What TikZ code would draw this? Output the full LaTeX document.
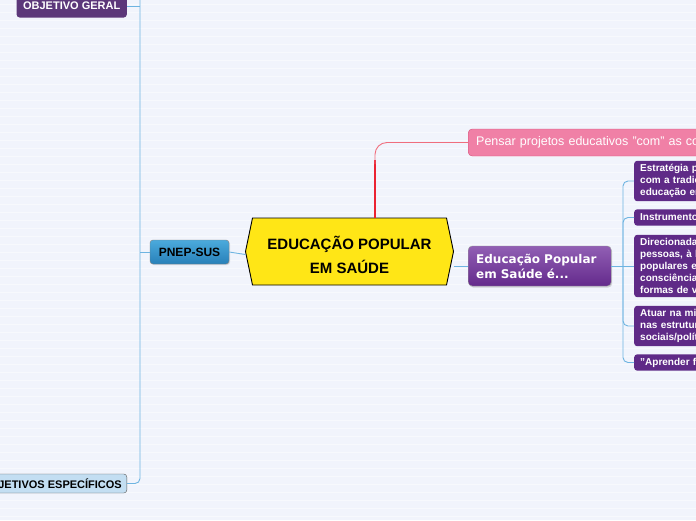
\documentclass[tikz,border=0pt]{standalone}
\usepackage{fontspec}
\setmainfont{Liberation Sans}
\newfontfamily\dejavu{DejaVu Sans}
\usetikzlibrary{calc,shadows}
\definecolor{bgc}{RGB}{241,244,252}
\definecolor{conn}{RGB}{110,180,225}
\definecolor{purpA}{RGB}{92,55,122}
\definecolor{purpB}{RGB}{95,42,135}
\definecolor{eduTop}{RGB}{145,95,180}
\definecolor{eduBot}{RGB}{100,42,140}
\definecolor{pnepTop}{RGB}{75,170,220}
\definecolor{pnepBot}{RGB}{40,128,185}
\definecolor{espFill}{RGB}{195,222,242}
\definecolor{yel}{RGB}{255,230,22}
\definecolor{pinkF}{RGB}{240,128,166}
\definecolor{pinkD}{RGB}{212,78,120}
\definecolor{redL}{RGB}{235,35,50}
\definecolor{redT}{RGB}{240,110,125}
\tikzset{
  connline/.style={draw=conn, line width=0.9pt},
  pbox/.style={fill=purpB, rounded corners=3pt, text=white, font=\bfseries\fontsize{10}{12}\selectfont,
    align=left, anchor=west, inner xsep=6pt, inner ysep=3.5pt, text width=200pt},
  tagbox/.style={rounded corners=3pt, font=\bfseries\fontsize{11}{12}\selectfont, inner xsep=5pt, inner ysep=0pt, minimum height=19pt}
}
\begin{document}
\begin{tikzpicture}[x=1pt,y=-1pt]
\useasboundingbox (0,0) rectangle (696,520);
\fill[bgc] (0,0) rectangle (696,520);
\clip (0,0) rectangle (696,520);
\foreach \yy in {4,12,...,520} {\draw[white!45!bgc, line width=0.4pt] (0,\yy) -- (696,\yy);}

% left nodes
\node[tagbox, fill=purpA, text=white, anchor=east, minimum height=23pt, inner xsep=6.5pt] (objger) at (127,6) {OBJETIVO GERAL};
\node[tagbox, fill=espFill, draw=black!65, anchor=east, text=black] (objesp) at (127,483.5) {OBJETIVOS ESPECÍFICOS};
\node[rounded corners=3pt, top color=pnepTop, bottom color=pnepBot, draw=black!50, font=\bfseries\fontsize{12}{14}\selectfont,
  minimum width=79pt, minimum height=24pt, inner sep=0pt, drop shadow={opacity=0.25,shadow xshift=1pt,shadow yshift=-1pt}] (pnep) at (189.5,252) {PNEP-SUS};

% central node
\coordinate (c) at (349.5,251.5);
\fill[yel, draw=black, line width=0.9pt] ($(c)+(-97,-33.5)$) -- ($(c)+(97,-33.5)$) -- ($(c)+(104,0)$)
  -- ($(c)+(97,33.5)$) -- ($(c)+(-97,33.5)$) -- ($(c)+(-104,0)$) -- cycle;
\node[font=\bfseries\fontsize{15}{24}\selectfont, align=center, minimum width=208pt, minimum height=67pt, inner sep=0pt] (ctr) at ($(c)+(0,3)$) {EDUCAÇÃO POPULAR\\EM SAÚDE};

% pink node
\node[fill=pinkF, draw=pinkD, rounded corners=4pt, anchor=west, text=white, font=\fontsize{12.5}{14}\selectfont,
  minimum height=27pt, inner xsep=8pt, inner ysep=0pt, text width=300pt] (pink) at (468,142.5) {Pensar projetos educativos "com" as comunidades};

% educacao node
\node[top color=eduTop, bottom color=eduBot, draw=black!40, rounded corners=4pt, anchor=west, text=white,
  font=\dejavu\bfseries\fontsize{12}{15}\selectfont, align=left, text width=127pt, inner xsep=8pt, minimum height=40pt, inner ysep=0pt,
  drop shadow={opacity=0.3,shadow xshift=1pt,shadow yshift=-1.5pt}] (edu) at (468,266) {Educação Popular\\em Saúde é...};

% right boxes
\node[pbox] (b1) at (634,181) {Estratégia para romper\\com a tradição normativa da\\educação em saúde};
\node[pbox] (b2) at (634,217.5) {Instrumento de gestão participativa};
\node[pbox] (b3) at (634,266) {Direcionada a grupos de\\pessoas, à história e saberes\\populares e lutas pela\\consciência e autonomia das\\formas de vida};
\node[pbox] (b4) at (634,326) {Atuar na micro política\\nas estruturas e relações\\sociais/políticas};
\node[pbox] (b5) at (634,362.5) {"Aprender fazendo"};

% connectors
\coordinate (topL) at (140,-10);
\draw[connline, rounded corners=5pt] (topL) |- (objesp.east);
\draw[connline] (objger.east) -- (objger.east -| topL);
\draw[connline] (pnep.west -| topL) -- (pnep.west);
\draw[connline] (pnep.east) -- (ctr.west);
\draw[connline] (edu.west -| ctr.east) -- (edu.west);

\coordinate (rb) at ($(c)+(25.5,-33.5)$);
\draw[redL, line width=2.2pt] (rb) -- ++(0,-58);
\draw[redT, line width=0.9pt, rounded corners=12pt] ($(rb)+(0,-54)$) |- (pink.west);

\coordinate (bus) at (623,266);
\draw[connline] (edu.east) -- (b3.west);
\foreach \b in {b1,b2,b4,b5} {\draw[connline, rounded corners=5pt] (bus) |- (\b.west);}
\end{tikzpicture}
\end{document}
